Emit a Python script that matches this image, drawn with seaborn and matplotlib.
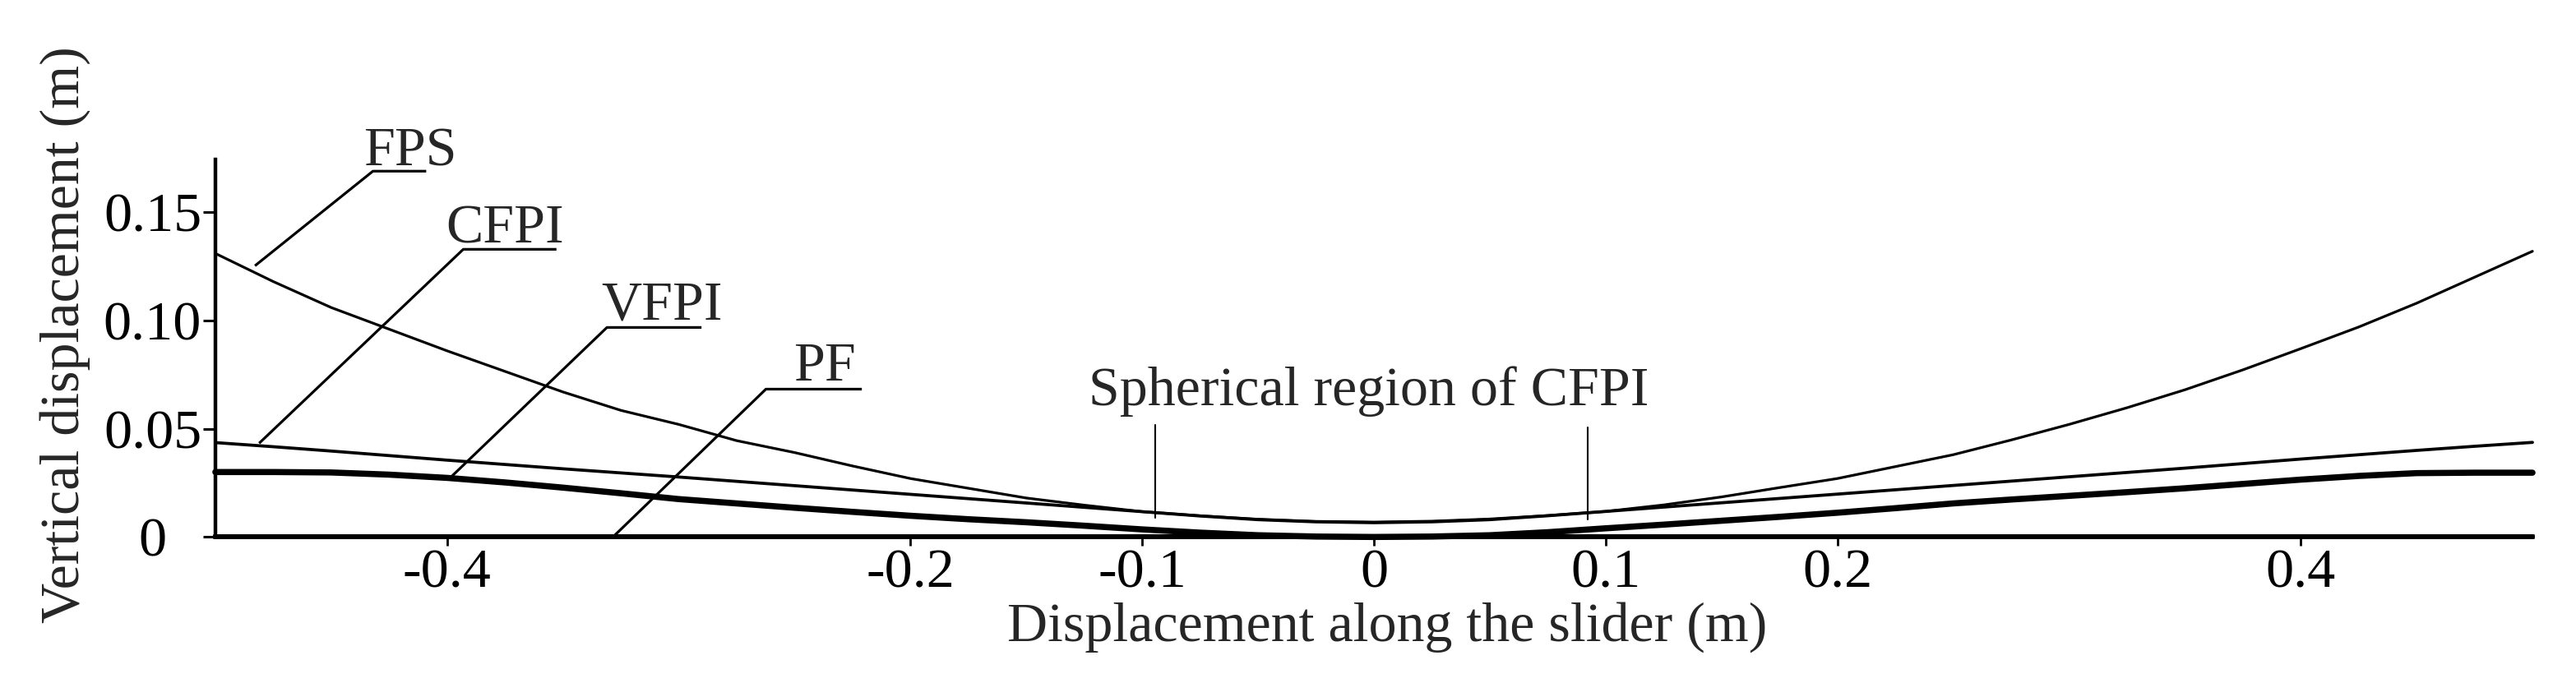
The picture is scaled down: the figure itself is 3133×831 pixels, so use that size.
import numpy as np
import pandas as pd
import matplotlib
matplotlib.use("Agg")
import matplotlib.pyplot as plt
import seaborn as sns

# displacement along the slider (m)
x_pos = [-0.500, -0.475, -0.450, -0.425, -0.400, -0.375, -0.350, -0.325, -0.300, -0.275,
         -0.250, -0.225, -0.200, -0.175, -0.150, -0.125, -0.100, -0.075, -0.050, -0.025,
         0.000, 0.025, 0.050, 0.075, 0.100, 0.125, 0.150, 0.175, 0.200, 0.225,
         0.250, 0.275, 0.300, 0.325, 0.350, 0.375, 0.400, 0.425, 0.450, 0.475, 0.500]

# vertical displacement (m)
fps = [0.131, 0.118, 0.106, 0.096, 0.086, 0.0765, 0.067, 0.0585, 0.052, 0.0445,
       0.039, 0.0328, 0.027, 0.0225, 0.018, 0.0147, 0.0117, 0.0098, 0.0082, 0.0072,
       0.0069, 0.0073, 0.0083, 0.0099, 0.0118, 0.0148, 0.0185, 0.0228, 0.027, 0.0325,
       0.038, 0.0448, 0.052, 0.0597, 0.068, 0.0772, 0.087, 0.097, 0.108, 0.120, 0.132]
cfpi = [0.0436, 0.0417, 0.0397, 0.0376, 0.0355, 0.0335, 0.0315, 0.0296, 0.0277, 0.0257,
        0.0237, 0.0217, 0.0197, 0.0177, 0.0157, 0.0137, 0.0117, 0.0097, 0.0080, 0.0070,
        0.0066, 0.0070, 0.0080, 0.0098, 0.0118, 0.0138, 0.0158, 0.0178, 0.0198, 0.0218,
        0.0238, 0.0258, 0.0278, 0.0298, 0.0318, 0.0339, 0.0360, 0.0380, 0.0400, 0.0419, 0.0437]
vfpi = [0.0300, 0.0300, 0.0298, 0.0288, 0.0273, 0.0252, 0.0228, 0.0202, 0.0175, 0.0155,
        0.0135, 0.0116, 0.0098, 0.0082, 0.0068, 0.0052, 0.0035, 0.0020, 0.0008, 0.0002,
        0.0, 0.0002, 0.0008, 0.0022, 0.0040, 0.0057, 0.0075, 0.0093, 0.0112, 0.0133,
        0.0155, 0.0173, 0.0190, 0.0207, 0.0225, 0.0245, 0.0265, 0.0282, 0.0295, 0.0297, 0.0297]
pf = [0.0] * len(x_pos)

xticks = [-0.4, -0.2, -0.1, 0, 0.1, 0.2, 0.4]
xtick_labels = ["-0.4", "-0.2", "-0.1", "0", "0.1", "0.2", "0.4"]
yticks = [0, 0.05, 0.10, 0.15]
ytick_labels = ["0", "0.05", "0.10", "0.15"]

sns.set_style("ticks")
plt.rcParams["font.family"] = ["Liberation Serif", "DejaVu Serif"]
FS = 49

fig = plt.figure(figsize=(31.33, 8.31), dpi=100)
ax = fig.add_axes([0.0836, 0.2138, 0.8995, 0.5527])

widths = {"FPS": 2.3, "CFPI": 2.7, "VFPI": 5.4, "PF": 4.3}
for name, vals in [("FPS", fps), ("CFPI", cfpi), ("VFPI", vfpi), ("PF", pf)]:
    sns.lineplot(x=x_pos, y=vals, color="black", linewidth=widths[name], ax=ax,
                 clip_on=False, zorder=3)

ax.set_xlim(-0.5, 0.5)
ax.set_ylim(0, 0.1744)
ax.set_xticks(xticks)
ax.set_xticklabels(xtick_labels, fontsize=FS)
ax.set_yticks(yticks)
ax.set_yticklabels(ytick_labels, fontsize=FS)
ax.tick_params(axis="x", length=8, width=2, pad=2, colors="black")
ax.tick_params(axis="y", length=11, width=2.2, pad=44, colors="black")
plt.setp(ax.get_yticklabels(), ha="center")
sns.despine(ax=ax)
ax.spines["left"].set_linewidth(3.2)
ax.spines["bottom"].set_linewidth(4.0)
ax.spines["left"].set_color("black")
ax.spines["bottom"].set_color("black")

# curve labels with leader lines
lk = dict(color="black", lw=2.3, clip_on=False, solid_capstyle="butt")
ax.plot([-0.4829, -0.432, -0.409], [0.1253, 0.169, 0.169], **lk)
ax.text(-0.4362, 0.1717, "FPS", fontsize=FS, va="baseline", ha="left")
ax.plot([-0.4811, -0.3930, -0.3528], [0.0433, 0.1329, 0.1329], **lk)
ax.text(-0.4007, 0.1360, "CFPI", fontsize=FS, va="baseline", ha="left")
ax.plot([-0.3984, -0.3310, -0.2902], [0.0276, 0.0968, 0.0968], **lk)
ax.text(-0.3333, 0.1007, "VFPI", fontsize=FS, va="baseline", ha="left")
ax.plot([-0.3284, -0.2624, -0.2210], [0.0, 0.0683, 0.0683], **lk)
ax.text(-0.2506, 0.0721, "PF", fontsize=FS, va="baseline", ha="left")

ax.text(-0.0023, 0.0607, "Spherical region of CFPI", fontsize=FS, va="baseline", ha="center")
ax.plot([-0.0943, -0.0943], [0.0519, 0.0088], color="black", lw=1.5)
ax.plot([0.0922, 0.0922], [0.0506, 0.0082], color="black", lw=1.5)

fig.text(0.5385, 0.0614, "Displacement along the slider (m)", fontsize=FS,
         ha="center", va="baseline")
fig.text(0.0352, 0.5102, "Vertical displacement (m)", fontsize=FS, rotation=90,
         ha="right", va="center")

fig.savefig("out.png", dpi=100, facecolor="white")
